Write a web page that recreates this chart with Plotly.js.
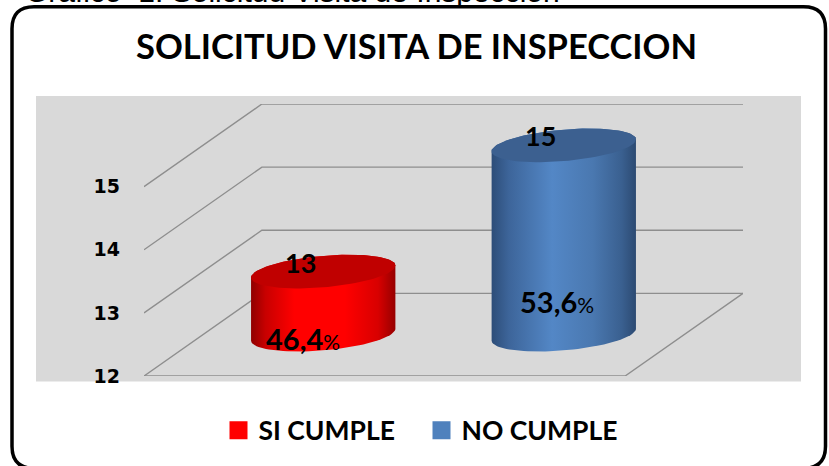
<!DOCTYPE html>
<html>
<head>
<meta charset="utf-8">
<script src="https://cdn.plot.ly/plotly-3.0.1.min.js"></script>
<style>html,body{margin:0;padding:0;background:#fff;overflow:hidden}</style>
</head>
<body>
<div id="chart" style="width:829px;height:466px"></div>
<script>
const categories = ['SI CUMPLE', 'NO CUMPLE'];
const values = [13, 15];
const percentText = ['46,4', '53,6'];
const tickValues = [12, 13, 14, 15];
const titleText = 'SOLICITUD VISITA DE INSPECCION';
const captionText = 'Gráfico  1: Solicitud Visita de Inspección';
const colors = ['#ff0000', '#4f81bd'];
const topColors = ['#c00000', '#3c6090'];
const gradients = [
  [[0,'#8f0000'],[0.1,'#c80000'],[0.3,'#ff0000'],[0.65,'#ff0000'],[0.88,'#d80000'],[1,'#960000']],
  [[0,'#2d4d78'],[0.12,'#3d659a'],[0.42,'#5387c6'],[0.7,'#4a78b0'],[0.9,'#3a6090'],[1,'#2c4a72']]
];

// pseudo-3D projection, in axis units
const depthX = 0.49, depthY = 1.31, mid = 0.5;
const project = (x, y, d) => [x + depthX * (d - 0.5), y + depthY * d];
const baseValue = tickValues[0];
const barWidth = 0.6, ra = barWidth / 2, rb = 0.25, shear = 0.095;

// pixel → paper helpers for frame and panel
const L = 144, R = 743, T = 104, B = 376.5;
const fx = p => (p - L) / (R - L);
const fy = p => (B - p) / (B - T);

const ell = (cx, cy, t) => [cx + ra * Math.cos(t), cy + rb * Math.sin(t) + shear * Math.cos(t)];

// wall and floor gridlines
const gx = [], gy = [];
const push = pts => { pts.forEach(p => { gx.push(p[0]); gy.push(p[1]); }); gx.push(null); gy.push(null); };
tickValues.forEach(v => push([project(0.5, v, 0), project(0.5, v, 1), project(2.5, v, 1)]));
push([project(0.5, baseValue, 0), project(2.5, baseValue, 0), project(2.5, baseValue, 1)]);

const traces = [];
traces.push({type:'scatter', mode:'lines', x:gx, y:gy, line:{color:'#8e8e8e', width:1.4},
  showlegend:false, hoverinfo:'skip', cliponaxis:false});

categories.forEach((c, i) => {
  const cx = i + 1;
  const yBase = baseValue + depthY * mid;
  const yTop = values[i] + depthY * mid;
  traces.push({type:'bar', x:[cx], y:[values[i] - baseValue], base:[yBase], width:[0.5],
    marker:{color:colors[i]}, name:c, showlegend:false, hoverinfo:'skip'});
  // cylinder body
  const bx = [], by = [];
  for (let k = 0; k <= 48; k++) { const p = ell(cx, yBase, Math.PI * k / 48 + Math.PI); bx.push(p[0]); by.push(p[1]); }
  for (let k = 0; k <= 48; k++) { const p = ell(cx, yTop, Math.PI * k / 48); bx.push(p[0]); by.push(p[1]); }
  traces.push({type:'scatter', mode:'lines', x:bx, y:by, fill:'toself', line:{width:0, color:colors[i]},
    fillgradient:{type:'horizontal', colorscale:gradients[i]}, showlegend:false, hoverinfo:'skip', cliponaxis:false});
  // cylinder top
  const tx = [], ty = [];
  for (let k = 0; k <= 96; k++) { const p = ell(cx, yTop, 2 * Math.PI * k / 96); tx.push(p[0]); ty.push(p[1]); }
  traces.push({type:'scatter', mode:'lines', x:tx, y:ty, fill:'toself', fillcolor:topColors[i],
    line:{width:0, color:topColors[i]}, showlegend:false, hoverinfo:'skip', cliponaxis:false});
});
// legend entries
categories.forEach((c, i) => {
  traces.push({type:'scatter', mode:'markers', x:[null], y:[null], name:c,
    marker:{symbol:'square', size:16, color:colors[i], line:{width:2, color:colors[i]}}, hoverinfo:'skip'});
});

const valueFont = {family:'Lato, "Open Sans", sans-serif', size:27, color:'#000', weight:700};
const pctFont = {family:'Lato, "Open Sans", sans-serif', size:29, color:'#000'};
const pctDy = [-0.06, 0.52];
const pctDx = [-0.085, -0.03];
const annotations = [];
categories.forEach((c, i) => {
  annotations.push({x:i + 1 - 0.095, y:values[i] + depthY * mid + 0.15, text:String(values[i]), showarrow:false,
    font:valueFont, xanchor:'center', yanchor:'middle'});
  annotations.push({x:i + 1 + pctDx[i], y:baseValue + depthY * mid + pctDy[i], showarrow:false,
    text:'<b>' + percentText[i] + '</b><span style="font-size:21px">%</span>',
    font:pctFont, xanchor:'center', yanchor:'middle'});
});
annotations.push({xref:'paper', yref:'paper', x:fx(23), y:fy(10), xanchor:'left', yanchor:'bottom',
  text:captionText, showarrow:false, font:{family:'Liberation Sans, Arial, sans-serif', size:30, color:'#000'}});

const r = 22, l0 = 12, t0 = 6.5, r0 = 825.5, b0 = 469;
const framePath = 'M' + fx(l0) + ',' + fy(t0 + r) +
  ' Q' + fx(l0) + ',' + fy(t0) + ' ' + fx(l0 + r) + ',' + fy(t0) +
  ' L' + fx(r0 - r) + ',' + fy(t0) +
  ' Q' + fx(r0) + ',' + fy(t0) + ' ' + fx(r0) + ',' + fy(t0 + r) +
  ' L' + fx(r0) + ',' + fy(b0 - r) +
  ' Q' + fx(r0) + ',' + fy(b0) + ' ' + fx(r0 - r) + ',' + fy(b0) +
  ' L' + fx(l0 + r) + ',' + fy(b0) +
  ' Q' + fx(l0) + ',' + fy(b0) + ' ' + fx(l0) + ',' + fy(b0 - r) + ' Z';

const layout = {
  width:829, height:466, paper_bgcolor:'#fff', plot_bgcolor:'rgba(0,0,0,0)',
  margin:{l:L, r:829 - R, t:T, b:466 - B, pad:0},
  title:{text:'<b>' + titleText + '</b>', x:416.5 / 829, xref:'container', xanchor:'center', y:1 - 47 / 466, yref:'container', yanchor:'middle',
    font:{family:'Lato, "Open Sans", sans-serif', size:34.5, color:'#000'}},
  xaxis:{range:[project(0.5,0,0)[0], project(2.5,0,1)[0]], visible:false, fixedrange:true},
  yaxis:{range:[baseValue, 15 + depthY], tickmode:'array', tickvals:tickValues, ticktext:tickValues.map(String),
    showgrid:false, zeroline:false, showline:false, ticks:'', ticklabelstandoff:23, fixedrange:true,
    tickfont:{family:'DejaVu Sans, Verdana, sans-serif', size:19, color:'#000', weight:700}},
  showlegend:true,
  legend:{orientation:'h', x:fx(218.5), xanchor:'left', y:fy(431), yanchor:'middle', itemsizing:'trace', traceorder:'normal',
    entrywidthmode:'pixels', entrywidth:158,
    font:{family:'Lato, "Open Sans", sans-serif', size:26.5, color:'#000', weight:700}, bgcolor:'rgba(0,0,0,0)', itemclick:false, itemdoubleclick:false},
  bargap:0,
  shapes:[
    {type:'rect', xref:'paper', yref:'paper', x0:fx(36), x1:fx(801), y0:fy(382), y1:fy(96), fillcolor:'#d9d9d9', line:{width:0}, layer:'below'},
    {type:'path', xref:'paper', yref:'paper', path:framePath, line:{color:'#000', width:3.5}, fillcolor:'rgba(0,0,0,0)', layer:'below'}
  ],
  annotations:annotations
};
Plotly.newPlot('chart', traces, layout, {displayModeBar:false, staticPlot:true});
</script>
</body>
</html>
